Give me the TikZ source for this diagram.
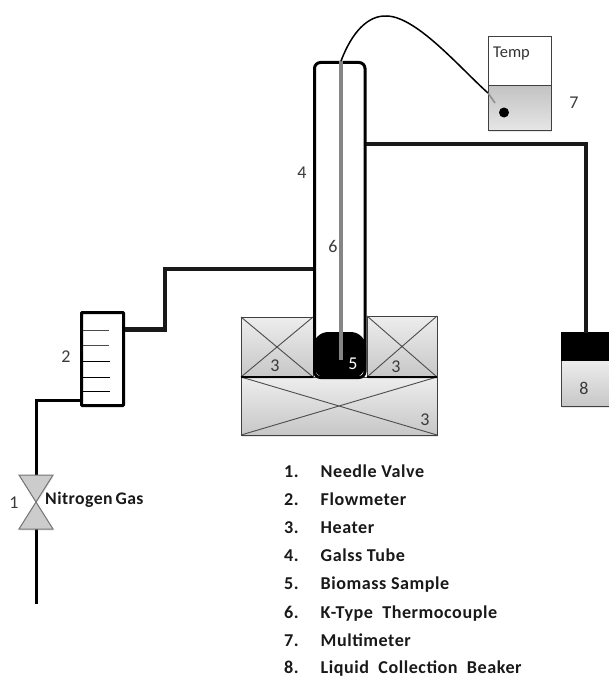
\documentclass[tikz,border=0pt]{standalone}
\usepackage{fontspec}
\setmainfont{Carlito}
\usetikzlibrary{shadows,fadings,calc}
\definecolor{numcol}{HTML}{3A3A3A}
\tikzset{
  x=1pt,y=-1pt,
  grayblock/.style={draw=black!75,line width=1pt,top color=black!7,bottom color=black!22,
     drop shadow={shadow xshift=0.8pt,shadow yshift=-1.6pt,opacity=.18},inner sep=0pt,outer sep=0pt,anchor=north west},
  pipe/.style={line width=4.6pt,black!90,line cap=butt,line join=miter},
  thinpipe/.style={line width=3pt,black,line join=miter},
  crossline/.style={line width=.9pt,black!70},
  num/.style={font=\fontsize{18}{20}\selectfont,text=numcol,inner sep=0pt},
  legend/.style={font=\bfseries\addfontfeature{LetterSpace=3}\fontsize{18.1}{19}\selectfont,text=black!90,inner sep=0pt,anchor=base west},
  tick/.style={line width=1pt,black!70},
}
\begin{document}
\begin{tikzpicture}
\useasboundingbox (0,0) rectangle (608,677);
% heater
\node[grayblock,minimum width=196pt,minimum height=58pt] (hb) at (241,377) {};
\node[grayblock,minimum width=72pt,minimum height=60pt] (hl) at (241,317) {};
\node[grayblock,minimum width=70pt,minimum height=61pt] (hr) at (367,316) {};
\draw[crossline] (hb.north west)--(hb.south east) (hb.north east)--(hb.south west);
\draw[crossline] (hl.north west)--(hl.south east) (hl.north east)--(hl.south west);
\draw[crossline] (hr.north west)--(hr.south east) (hr.north east)--(hr.south west);
\draw[line width=1.5pt,black] (hl.south west)--(hl.south east) (hr.south west)--(hr.south east);
% tube
\node[draw=black,line width=3pt,fill=white,rounded corners=6pt,minimum width=50.5pt,minimum height=315pt,inner sep=0pt,outer sep=0pt,anchor=north west] (tube) at (314.5,62.5) {};
\node[fill=black,draw=black,line width=1pt,rounded corners=15pt,minimum width=52pt,minimum height=45.5pt,inner sep=0pt,outer sep=0pt,anchor=north west] (sample) at (313.5,332.5) {};
\coordinate (tctop) at (341,61);
\coordinate (tcend) at (341,360);
\draw[line width=3.2pt,black!48] (tctop)--(tcend);
% multimeter
\node[draw=black!75,line width=1pt,fill=white,minimum width=63pt,minimum height=48pt,inner sep=0pt,outer sep=0pt,anchor=north west] (mtop) at (488,37) {};
\node[grayblock,bottom color=black!10,top color=black!24,minimum width=63pt,minimum height=45pt] (mbot) at (488,85) {};
\node[font=\fontsize{16.5}{18}\selectfont,text=black!80,inner sep=0pt,anchor=west] (templ) at (493,54) {Temp};
\node[circle,fill=black,minimum size=10pt,inner sep=0pt] (dot) at (504,112.5) {};
\coordinate (wireend) at (488,93);
\coordinate (probe) at (495,103);
\draw[line width=1.5pt,black] (tctop) .. controls (352,32) and (368,15) .. (387,16) .. controls (417,17) and (460,68) .. (wireend);
\draw[line width=1.5pt,black!45] (wireend)--(probe);
% beaker
\node[grayblock,minimum width=50pt,minimum height=46pt] (beaker) at (561,360) {};
\node[fill=black,draw=black,minimum width=50pt,minimum height=28pt,inner sep=0pt,outer sep=0pt,anchor=north west] (beakertop) at (561,332) {};
\coordinate (c1) at (366,144);
\coordinate (c2) at (586,144);
\coordinate (c3) at (586,333);
\draw[pipe] (c1)--(c2)--(c3);
% flowmeter
\node[draw=black,line width=3pt,fill=white,rounded corners=.8pt,minimum width=42pt,minimum height=93pt,inner sep=0pt,outer sep=0pt,anchor=north west] (flow) at (81.5,312.5) {};
\draw[tick] (83,330)--(109,330) (83,345)--(109,345);
\draw[tick,black] (83,361)--(110,361) (83,377)--(110,377) (83,391)--(110,391);
\coordinate (p1) at (313,269);
\coordinate (p2) at (165,269);
\coordinate (p3) at (165,329.5);
\coordinate (p4) at (125,329.5);
\draw[pipe] (p1)--(p2)--(p3)--(p4);
% valve
\node[inner sep=0pt,minimum size=0pt] (valve) at (36,502) {};
\coordinate (q1) at (81,400.5);
\coordinate (q2) at (36,400.5);
\coordinate (q3) at (36,475);
\coordinate (q4) at (36,529);
\coordinate (q5) at (36,604);
\draw[thinpipe] (q1)--(q2)--(q3);
\draw[thinpipe] (q4)--(q5);
\fill[black!20,draw=black!55,line width=1pt,drop shadow={shadow xshift=0.8pt,shadow yshift=-1.6pt,opacity=.18}]
  (19,475)--(53,475)--(valve.center)--(53,529)--(19,529)--(valve.center)--cycle;
% labels
\node[num] (n1) at (14,503) {1};
\node[font=\bfseries\addfontfeature{LetterSpace=2.5}\fontsize{17.7}{19}\selectfont,text=black!90,inner sep=0pt,anchor=west] (gas) at (45,500) {Nitrogen\,Gas};
\node[num] (n2) at (66,357) {2};
\node[num] (n3a) at (275,366) {3};
\node[num] (n3b) at (396,367) {3};
\node[num] (n3c) at (425,420) {3};
\node[num] (n4) at (302,173) {4};
\node[num,text=white] (n5) at (353,364) {5};
\node[num] (n6) at (333,246) {6};
\node[num] (n7) at (574,103) {7};
\node[num] (n8) at (584,388) {8};
% legend
\foreach \i/\y/\t in {1/477/Needle Valve,2/505/Flowmeter,3/533/Heater,4/561/Galss Tube,5/589.5/Biomass Sample,6/618/K-Type\ \ Thermocouple,7/646/Multimeter,8/673.5/Liquid\ \ Collection\ \ Beaker}{
  \node[legend] (li\i) at (284,\y) {\i.};
  \node[legend] (lt\i) at (320.5,\y) {\t};
}
\end{tikzpicture}
\end{document}
